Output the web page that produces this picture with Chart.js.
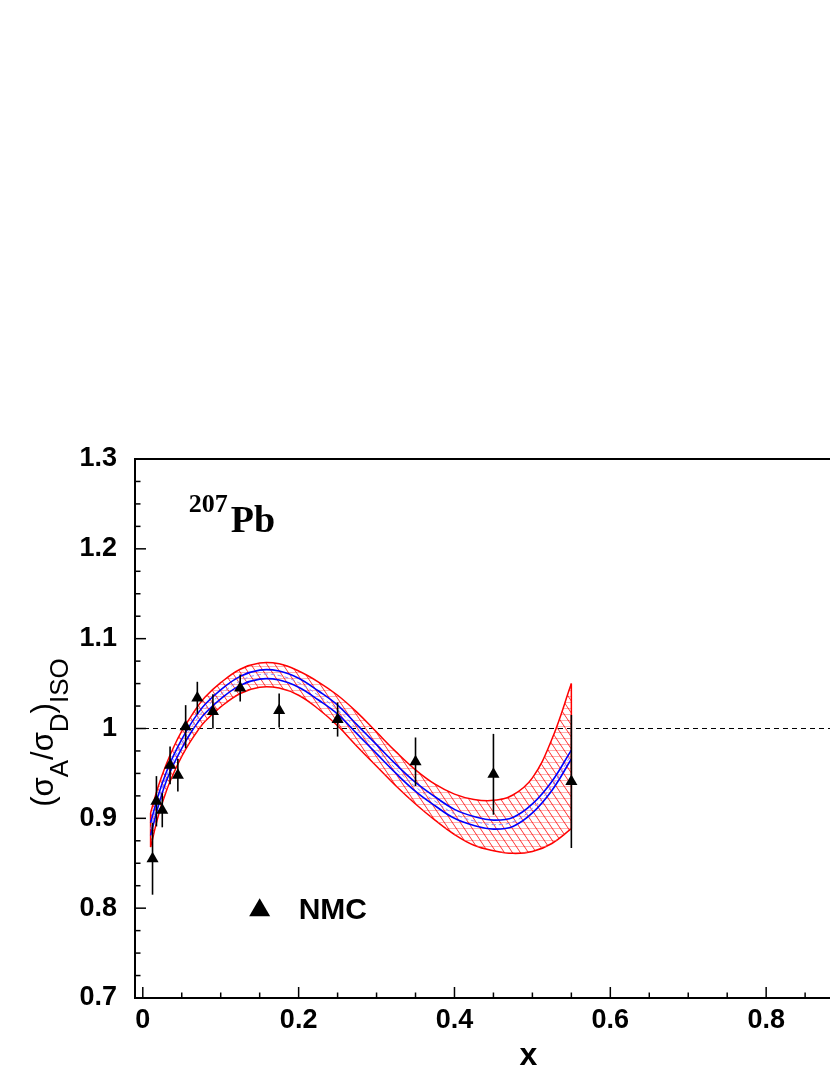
<!DOCTYPE html>
<html>
<head>
<meta charset="utf-8">
<script src="https://cdn.jsdelivr.net/npm/chart.js@4.4.0/dist/chart.umd.min.js"></script>
<style>
html, body { margin: 0; padding: 0; overflow: hidden; background: #fff; }
#wrap { position: relative; width: 960px; height: 1075px; }
</style>
</head>
<body>
<div id="wrap"><canvas id="ratioChart" width="960" height="1075"></canvas></div>
<script>
// x grid of the model band
const bandX = [0.01, 0.02, 0.03, 0.04, 0.05, 0.06, 0.07, 0.08, 0.1, 0.125, 0.15, 0.175, 0.2, 0.225,
    0.25, 0.275, 0.3, 0.325, 0.35, 0.375, 0.4, 0.425, 0.45, 0.475, 0.5, 0.525, 0.55];
const centerY = [0.888, 0.920, 0.946, 0.966, 0.983, 0.998, 1.011, 1.022, 1.038, 1.053, 1.060, 1.059, 1.051, 1.037,
    1.021, 0.999, 0.977, 0.955, 0.935, 0.919, 0.905, 0.897, 0.893, 0.896, 0.911, 0.936, 0.971];
const blueUp = [0.895, 0.926, 0.951, 0.971, 0.988, 1.003, 1.016, 1.027, 1.043, 1.058, 1.065, 1.064, 1.056, 1.042,
    1.026, 1.004, 0.982, 0.960, 0.940, 0.924, 0.910, 0.902, 0.898, 0.901, 0.916, 0.941, 0.976];
const blueLo = [0.881, 0.914, 0.941, 0.961, 0.978, 0.993, 1.006, 1.017, 1.033, 1.048, 1.055, 1.054, 1.046, 1.032,
    1.016, 0.994, 0.972, 0.950, 0.930, 0.914, 0.900, 0.892, 0.888, 0.891, 0.906, 0.931, 0.966];
const redUp = [0.906, 0.936, 0.960, 0.980, 0.997, 1.011, 1.024, 1.035, 1.051, 1.066, 1.073, 1.072, 1.064, 1.052,
    1.037, 1.018, 0.996, 0.974, 0.954, 0.938, 0.927, 0.921, 0.920, 0.926, 0.945, 0.988, 1.050];
const redLo = [0.868, 0.903, 0.930, 0.951, 0.969, 0.984, 0.997, 1.008, 1.024, 1.039, 1.046, 1.045, 1.037, 1.022,
    1.003, 0.980, 0.958, 0.936, 0.916, 0.898, 0.882, 0.870, 0.864, 0.861, 0.863, 0.872, 0.8885];

// NMC data
const nmcX = [0.0125, 0.0175, 0.025, 0.035, 0.045, 0.055, 0.07, 0.09, 0.125, 0.175, 0.25, 0.35, 0.45, 0.55];
const nmcY = [0.855, 0.919, 0.909, 0.959, 0.948, 1.002, 1.034, 1.019, 1.045, 1.020, 1.010, 0.963, 0.949, 0.941];
const nmcErr = [0.040, 0.028, 0.019, 0.021, 0.018, 0.024, 0.018, 0.019, 0.015, 0.019, 0.019, 0.027, 0.045, 0.074];

// reference line and axes
const refX = [-0.01, 1.0];
const refY = [1, 1];
const xTicks = [0, 0.2, 0.4, 0.6, 0.8, 1.0];
const yTicks = [0.7, 0.8, 0.9, 1.0, 1.1, 1.2, 1.3];

const pts = (xs, ys) => xs.map((x, i) => ({ x, y: ys[i] }));

// red cross hatch for the band
const tile = document.createElement('canvas');
tile.width = 24; tile.height = 24;
const tg = tile.getContext('2d');
tg.strokeStyle = 'rgba(255,110,110,0.55)';
tg.lineWidth = 1;
for (let y = 0.5; y < 24; y += 6) { tg.beginPath(); tg.moveTo(0, y); tg.lineTo(24, y); tg.stroke(); }
tg.strokeStyle = 'rgba(255,0,0,0.8)';
for (let k = -3; k <= 3; k++) { tg.beginPath(); tg.moveTo(8 * k, 0); tg.lineTo(8 * k + 16, 24); tg.stroke(); }
const hatch = tg.createPattern(tile, 'repeat');

const lineDs = (data, color, width, extra) => Object.assign({
    data, borderColor: color, borderWidth: width, pointRadius: 0, fill: false, tension: 0.4,
}, extra || {});

const extras = {
    id: 'extras',
    afterDatasetsDraw(chart) {
        const { ctx, chartArea: a, scales: { x, y } } = chart;
        ctx.save();
        // error bars
        ctx.strokeStyle = '#000';
        ctx.lineWidth = 1.6;
        nmcX.forEach((v, i) => {
            const px = x.getPixelForValue(v);
            ctx.beginPath();
            ctx.moveTo(px, y.getPixelForValue(nmcY[i] - nmcErr[i]));
            ctx.lineTo(px, y.getPixelForValue(nmcY[i] + nmcErr[i]));
            ctx.stroke();
        });
        // frame
        ctx.lineWidth = 2;
        ctx.strokeRect(a.left, a.top, a.right - a.left, a.bottom - a.top);
        // inward ticks
        ctx.lineWidth = 1.5;
        for (let i = 0; i <= 20; i++) {
            const px = x.getPixelForValue(i * 0.05);
            const len = i % 4 === 0 ? 11 : 5.5;
            ctx.beginPath(); ctx.moveTo(px, a.bottom); ctx.lineTo(px, a.bottom - len); ctx.stroke();
        }
        for (let i = 0; i <= 24; i++) {
            const py = y.getPixelForValue(0.7 + i * 0.025);
            const len = i % 4 === 0 ? 11 : 5.5;
            ctx.beginPath(); ctx.moveTo(a.left, py); ctx.lineTo(a.left + len, py); ctx.stroke();
        }
        ctx.restore();
    },
    afterDraw(chart) {
        const { ctx, scales: { x, y } } = chart;
        ctx.save();
        ctx.fillStyle = '#000';
        ctx.textBaseline = 'alphabetic';

        // 207Pb label
        ctx.font = 'bold 26px "Liberation Serif"';
        const lx = x.getPixelForValue(0.059);
        const ly = y.getPixelForValue(1.219);
        ctx.fillText('207', lx, ly - 20);
        const w207 = ctx.measureText('207').width;
        ctx.font = 'bold 38px "Liberation Serif"';
        ctx.fillText('Pb', lx + w207 + 3, ly);

        // legend
        const mx = x.getPixelForValue(0.15);
        const my = y.getPixelForValue(0.8);
        ctx.beginPath();
        ctx.moveTo(mx, my - 10);
        ctx.lineTo(mx + 10.5, my + 8);
        ctx.lineTo(mx - 10.5, my + 8);
        ctx.closePath();
        ctx.fill();
        ctx.font = 'bold 30px "Liberation Sans"';
        ctx.fillText('NMC', x.getPixelForValue(0.2), my + 11);

        // x axis title
        ctx.font = 'bold 32px "Liberation Sans"';
        ctx.textAlign = 'center';
        ctx.fillText('x', (chart.chartArea.left + chart.chartArea.right) / 2, 1065);

        // y axis title with subscripts
        ctx.textAlign = 'left';
        const parts = [['(σ', 0], ['A', 1], ['/σ', 0], ['D', 1], [')', 0], ['ISO', 1]];
        const mainFont = '31px "Liberation Sans"';
        const subFont = '26px "Liberation Sans"';
        let total = 0;
        parts.forEach(([t, s]) => { ctx.font = s ? subFont : mainFont; total += ctx.measureText(t).width; });
        ctx.translate(53, (chart.chartArea.top + chart.chartArea.bottom) / 2 + 4);
        ctx.rotate(-Math.PI / 2);
        let cx = -total / 2;
        parts.forEach(([t, s]) => {
            ctx.font = s ? subFont : mainFont;
            ctx.fillText(t, cx, s ? 15 : 0);
            cx += ctx.measureText(t).width;
        });
        ctx.restore();
    },
};

new Chart(document.getElementById('ratioChart'), {
    type: 'line',
    data: {
        datasets: [
            lineDs(pts(bandX, redLo), '#ff0000', 1.5, { order: 5 }),
            lineDs(pts(bandX, redUp), '#ff0000', 1.5, { order: 4, fill: '-1', backgroundColor: hatch }),
            lineDs(pts([bandX[0], bandX[0]], [redLo[0], redUp[0]]), '#ff0000', 1.5, { order: 3 }),
            lineDs(pts([bandX[bandX.length - 1], bandX[bandX.length - 1]],
                [redLo[redLo.length - 1], redUp[redUp.length - 1]]), '#ff0000', 1.5, { order: 3 }),
            lineDs(pts(bandX, blueUp), '#0000ff', 1.6, { order: 2 }),
            lineDs(pts(bandX, blueLo), '#0000ff', 1.6, { order: 2 }),
            lineDs(pts(bandX, centerY), '#8a8aff', 1, { order: 2, borderDash: [4, 3] }),
            lineDs(pts(refX, refY), '#000', 1.2, { order: 6, borderDash: [5, 4], tension: 0 }),
            {
                data: pts(nmcX, nmcY),
                showLine: false,
                pointStyle: 'triangle',
                pointRadius: 7,
                pointBackgroundColor: '#000',
                pointBorderColor: '#000',
                pointBorderWidth: 0,
                order: 0,
            },
        ],
    },
    options: {
        responsive: false,
        animation: false,
        layout: { padding: { left: 0, top: 459, right: 38, bottom: 0 } },
        plugins: { legend: { display: false }, tooltip: { enabled: false } },
        scales: {
            x: {
                type: 'linear',
                min: -0.01,
                max: 1.0,
                grid: { display: false },
                border: { display: false },
                afterBuildTicks: (s) => { s.ticks = xTicks.map((v) => ({ value: v })); },
                afterFit: (s) => { s.height = 77; },
                ticks: {
                    color: '#000',
                    padding: -2,
                    maxRotation: 0,
                    font: { family: 'Liberation Sans', size: 27, weight: 'bold' },
                    callback: (v) => String(+v.toFixed(1)),
                },
            },
            y: {
                min: 0.7,
                max: 1.3,
                grid: { display: false },
                border: { display: false },
                afterBuildTicks: (s) => { s.ticks = yTicks.map((v) => ({ value: v })); },
                afterFit: (s) => { s.width = 135; },
                ticks: {
                    color: '#000',
                    padding: 10,
                    font: { family: 'Liberation Sans', size: 27, weight: 'bold' },
                    callback: (v) => String(+v.toFixed(1)),
                },
            },
        },
    },
    plugins: [extras],
});
</script>
</body>
</html>
